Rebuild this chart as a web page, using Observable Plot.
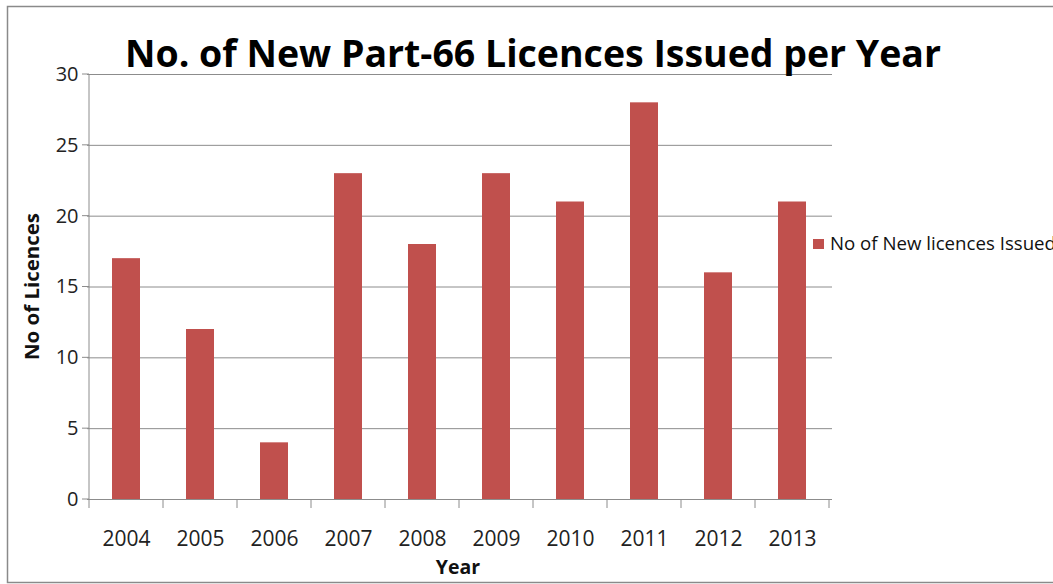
<!DOCTYPE html>
<html>
<head>
<meta charset="utf-8">
<script src="https://cdn.jsdelivr.net/npm/d3@7"></script>
<script src="https://cdn.jsdelivr.net/npm/@observablehq/plot@0.6"></script>
<style>
  html, body { margin: 0; padding: 0; background: #fff; }
  #chart { position: relative; width: 1053px; height: 584px; overflow: hidden; }
</style>
</head>
<body>
<div id="chart"></div>
<script>
const years = ["2004","2005","2006","2007","2008","2009","2010","2011","2012","2013"];
const licences = [17, 12, 4, 23, 18, 23, 21, 28, 16, 21];
const yTicks = [0, 5, 10, 15, 20, 25, 30];
const titleText = "No. of New Part-66 Licences Issued per Year";
const seriesName = "No of New licences Issued";
const xLabel = "Year";
const yLabel = "No of Licences";

const data = years.map((y, i) => ({year: y, value: licences[i]}));
const barColor = "#C0504D";
const gridColor = "#8c8c8c";
const font = "'Open Sans', 'Noto Sans', sans-serif";

const chart = Plot.plot({
  width: 1053,
  height: 584,
  marginLeft: 87,
  marginRight: 221,
  marginTop: 74,
  marginBottom: 85,
  style: {fontFamily: font, fontSize: "20px", color: "#222", background: "transparent", overflow: "visible"},
  x: {domain: years, paddingInner: 0.62, paddingOuter: 0.31, label: null, axis: null},
  y: {domain: [0, 30], ticks: yTicks, label: null, axis: null},
  marks: [
    Plot.ruleY(yTicks, {stroke: gridColor, strokeWidth: 1}),
    Plot.barY(data, {x: "year", y: "value", fill: barColor}),
    Plot.axisY(yTicks, {tickSize: 0, tickPadding: 9, fontSize: 20, fill: "#222", label: null}),
    Plot.axisX(years, {tickSize: 0, tickPadding: 32, fontSize: 21, fill: "#222", label: null})
  ]
});

document.getElementById("chart").appendChild(chart);

// Draw axis lines and tick marks from the library scales
const svg = d3.select(chart);
const xs = chart.scale("x");
const ys = chart.scale("y");
const y0 = ys.apply(0), yTop = ys.apply(30);
const step = xs.step, bw = xs.bandwidth;
const gap = (step - bw) / 2;
const firstStart = xs.apply(years[0]) - gap;
const boundaries = d3.range(years.length + 1).map(i => firstStart + i * step);
const xLeft = boundaries[0], xRight = boundaries[boundaries.length - 1];

const g = svg.append("g").attr("stroke", gridColor).attr("stroke-width", 1);
// y axis line
g.append("line").attr("x1", xLeft).attr("x2", xLeft).attr("y1", yTop).attr("y2", y0);
// y tick marks
yTicks.forEach(t => {
  g.append("line").attr("x1", xLeft - 7).attr("x2", xLeft).attr("y1", ys.apply(t)).attr("y2", ys.apply(t));
});
// x tick marks at boundaries
boundaries.forEach(b => {
  g.append("line").attr("x1", b).attr("x2", b).attr("y1", y0).attr("y2", y0 + 9);
});

// outer frame
svg.append("rect").attr("x", 7.5).attr("y", 6.5).attr("width", 1060).attr("height", 576)
  .attr("fill", "none").attr("stroke", "#8a8a8a").attr("stroke-width", 1.5);

// title
svg.append("text").attr("x", 533).attr("y", 67).attr("text-anchor", "middle")
  .attr("font-family", font).attr("font-weight", "bold").attr("font-size", 38)
  .attr("fill", "#000")
  .attr("textLength", 816).attr("lengthAdjust", "spacingAndGlyphs")
  .text(titleText);

// axis titles
svg.append("text").attr("x", (xLeft + xRight) / 2 - 1).attr("y", 574).attr("text-anchor", "middle")
  .attr("font-family", font).attr("font-weight", "bold").attr("font-size", 19.5).attr("fill", "#111")
  .text(xLabel);
svg.append("text").attr("transform", `translate(39, ${(yTop + y0) / 2}) rotate(-90)`)
  .attr("text-anchor", "middle")
  .attr("font-family", font).attr("font-weight", "bold").attr("font-size", 20).attr("fill", "#111")
  .attr("textLength", 147).attr("lengthAdjust", "spacingAndGlyphs")
  .text(yLabel);

// legend
const lg = svg.append("g").attr("transform", "translate(813, 244)");
lg.append("rect").attr("x", 0).attr("y", -5).attr("width", 11).attr("height", 10).attr("fill", barColor);
lg.append("text").attr("x", 17).attr("y", 0).attr("dy", "0.36em").attr("text-anchor", "start")
  .attr("font-family", font).attr("font-size", 17.5).attr("fill", "#111")
  .attr("textLength", 226).attr("lengthAdjust", "spacingAndGlyphs")
  .text(seriesName);
</script>
</body>
</html>
